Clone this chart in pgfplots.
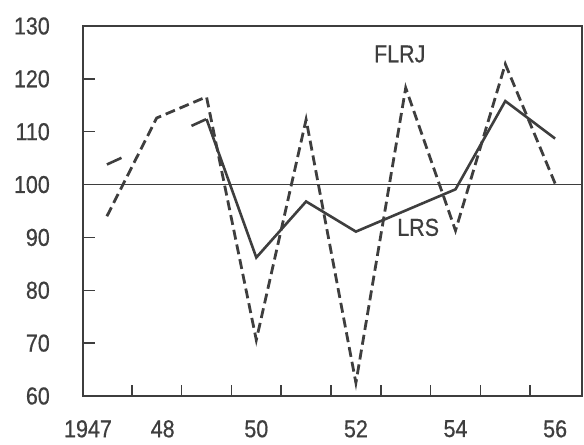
\documentclass[border=0pt]{standalone}
\usepackage{fontspec}
\setmainfont{Liberation Sans}[FakeStretch=0.88, FakeBold=0.6]
\usepackage{pgfplots}
\pgfplotsset{compat=1.18}
\definecolor{ink}{HTML}{3E3E3E}
\begin{document}
\begin{tikzpicture}
\begin{axis}[name=ax, scale only axis, width=499bp, height=370bp,
  xmin=1946.52, xmax=1956.54, ymin=60, ymax=130,
  axis line style={ink, line width=1.5bp},
  tick style={ink, line width=1.5bp},
  tick pos=left, tick align=inside,
  major tick length=12bp, minor tick length=11bp,
  ytick={60,70,...,130},
  xtick={1946.62,1948.12,1950,1952,1954,1956},
  xticklabels={1947,48,50,52,54,56},
  minor xtick={1947.5,1948.5,...,1955.5},
  major x tick style={draw=none},
  /pgf/number format/assume math mode=true,
  yticklabel={\pgfmathprintnumber[fixed,precision=0]{\tick}},
  ticklabel style={font=\fontsize{24.5}{28}\selectfont, text=ink, inner sep=0pt},
  yticklabel style={anchor=east, xshift=-33bp},
  xticklabel style={anchor=north, yshift=-24bp},
  clip=false,
]
\draw[ink, line width=1.3bp] (axis cs:1946.52,100) -- (axis cs:1956.54,100);
% FLRJ (dashed)
\addplot[ink, line width=2.8bp, dash pattern=on 10bp off 5bp] coordinates {
 (1947,94.0) (1948,112.6) (1949,116.6) (1950,70.6) (1951,112.3)
 (1952,62.5) (1953,118.3) (1954,91.3) (1955,122.8) (1956,100.2)};
% LRS early estimate (long dashes)
\addplot[ink, line width=2.6bp, dash pattern=on 16bp off 77bp] coordinates {
 (1947,103.8) (1949,112.4)};
% LRS (solid)
\addplot[ink, line width=2.6bp] coordinates {
 (1949,112.4) (1950,86.2) (1951,96.8) (1952,91.1) (1954,99.1)
 (1955,115.8) (1956,108.7)};
\node[text=ink, font=\fontsize{24.5}{28}\selectfont] at (axis cs:1952.88,124.7) {FLRJ};
\node[text=ink, font=\fontsize{24.5}{28}\selectfont] at (axis cs:1953.25,91.9) {LRS};
\end{axis}
\pgfresetboundingbox
\path ([shift={(-83bp,-49bp)}]ax.south west) rectangle ([shift={(2bp,26bp)}]ax.north east);
\end{tikzpicture}
\end{document}
